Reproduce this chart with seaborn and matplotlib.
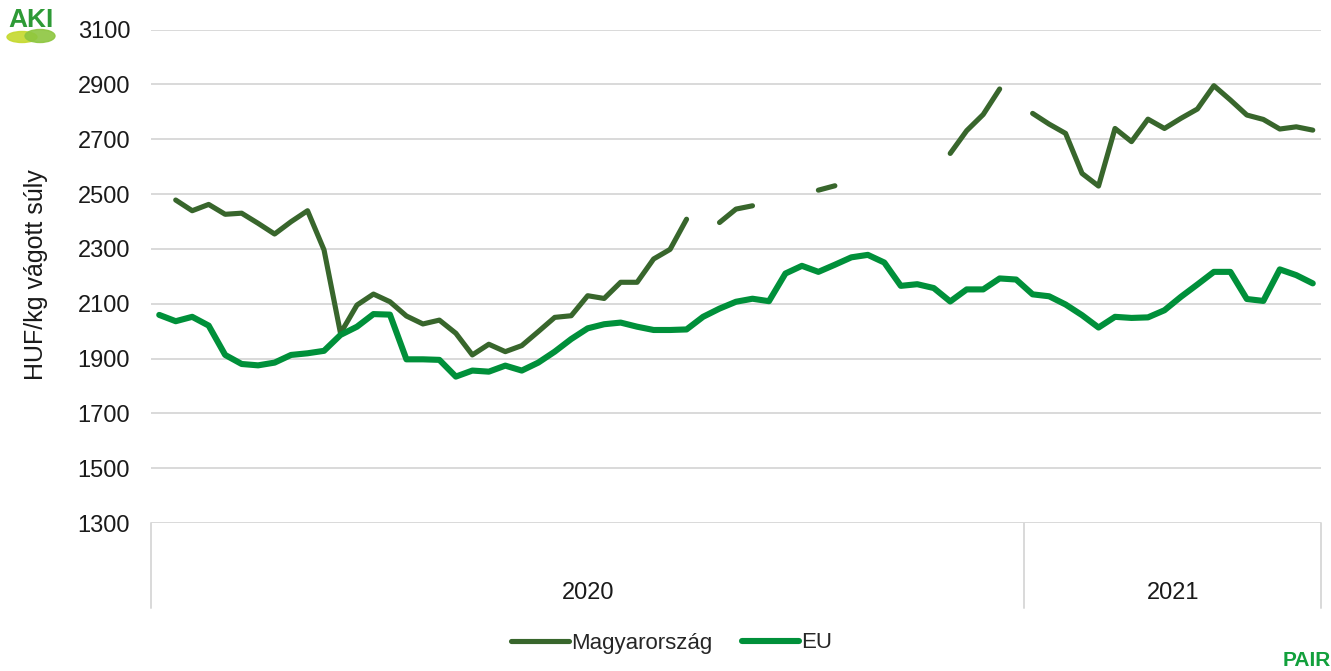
import matplotlib
matplotlib.use("Agg")
import matplotlib.pyplot as plt
import matplotlib.transforms as mtransforms
from matplotlib.lines import Line2D
from matplotlib.patches import Ellipse
import numpy as np
import pandas as pd
import seaborn as sns

# weekly prices, 2020 week 1 .. 2021 week 18
years = ["2020", "2021"]
weeks_per_year = [53, 18]
weeks = list(range(1, 54)) + list(range(1, 19))

nan = np.nan
hu = [nan, 2478, 2439, 2462, 2426, 2430, 2393, 2354, 2399, 2439,
      2296, 1992, 2095, 2135, 2107, 2055, 2026, 2040, 1992, 1913,
      1952, 1925, 1947, 1998, 2050, 2056, 2129, 2119, 2178, 2178,
      2263, 2298, 2408, nan, 2396, 2445, 2457, nan, nan, nan,
      2514, 2530, nan, nan, nan, nan, nan, nan, 2648, 2731,
      2790, 2883, nan, 2794, 2755, 2721, 2575, 2529, 2739, 2691,
      2773, 2739, 2776, 2810, 2895, 2843, 2788, 2772, 2737, 2745,
      2733]
eu = [2059, 2036, 2052, 2020, 1913, 1880, 1875, 1885, 1913, 1919,
      1928, 1986, 2016, 2062, 2060, 1897, 1897, 1895, 1834, 1856,
      1852, 1874, 1856, 1885, 1925, 1971, 2010, 2025, 2031, 2016,
      2004, 2004, 2006, 2052, 2082, 2107, 2118, 2109, 2210, 2238,
      2216, 2242, 2269, 2278, 2250, 2165, 2171, 2157, 2108, 2152,
      2152, 2192, 2188, 2134, 2127, 2097, 2058, 2013, 2052, 2048,
      2050, 2076, 2125, 2170, 2216, 2216, 2117, 2110, 2225, 2204,
      2174]

series_names = ["Magyarország", "EU"]
colors = {"Magyarország": "#38662c", "EU": "#00903a"}
widths = {"Magyarország": 3.7, "EU": 4.4}

frames = []
for name, vals in zip(series_names, [hu, eu]):
    s = pd.Series(vals, dtype=float)
    seg = s.isna().cumsum()
    frames.append(pd.DataFrame({"idx": np.arange(len(vals)), "value": s,
                                "series": name, "seg": name + seg.astype(str)}))
df = pd.concat(frames).dropna(subset=["value"])

sns.set_theme(style="white")
plt.rcParams["font.family"] = ["Liberation Sans", "DejaVu Sans"]

fig = plt.figure(figsize=(13.31, 6.71), dpi=100)
W, H = 1331, 671
ax = fig.add_axes([151 / W, 1 - 523 / H, 1170 / W, 493.5 / H])

sns.lineplot(data=df, x="idx", y="value", hue="series", units="seg",
             estimator=None, sort=False, palette=colors, ax=ax, legend=False)
for line in ax.lines:
    line.set_solid_capstyle("round")
    line.set_linewidth(widths["EU"] if line.get_color() == colors["EU"]
                       else widths["Magyarország"])

n = len(weeks)
ax.set_xlim(-0.5, n - 0.5)
ax.set_ylim(1300, 3100)
ax.set_yticks(range(1300, 3101, 200))
ax.yaxis.grid(True, color="#d9d9d9", linewidth=1.4)
ax.set_axisbelow(True)
for sp in ax.spines.values():
    sp.set_visible(False)
ax.set_xticks([])
ax.set_xlabel("")
ax.tick_params(axis="y", length=0, pad=15, labelsize=17, labelcolor="#1a1a1a")
ax.set_ylabel("HUF/kg vágott súly", fontsize=18, color="#1a1a1a")
ax.yaxis.set_label_coords(-(151 - 48) / 1170, (523 - 275) / 493.5)

# year group axis
trans = mtransforms.blended_transform_factory(ax.transData, ax.transAxes)
bounds = np.concatenate([[0], np.cumsum(weeks_per_year)]) - 0.5
for b in bounds:
    ax.plot([b, b], [0, -85 / 493.5], transform=trans, color="#d9d9d9",
            linewidth=1.4, clip_on=False)
for y, a, b in zip(years, bounds[:-1], bounds[1:]):
    ax.text((a + b) / 2, -70 / 493.5, y, transform=trans, ha="center",
            va="center", fontsize=17, color="#1a1a1a")

# legend
handles = [Line2D([], [], color=colors[s], lw=widths[s]) for s in series_names]
fig.legend(handles, series_names, loc="center", bbox_to_anchor=(672 / W, 1 - 643 / H),
           ncol=2, frameon=False, fontsize=16, handlelength=2.6,
           handletextpad=0.1, columnspacing=1.3)

# logos
fig.text(8 / W, 1 - 20 / H, "AKI", fontsize=19, fontweight="bold",
         color="#2e9a36", va="center", ha="left")
fig.patches.append(Ellipse((22 / W, 1 - 37 / H), 30 / W, 11 / H,
                           transform=fig.transFigure, color="#c5d92d", alpha=0.9))
fig.patches.append(Ellipse((40 / W, 1 - 36 / H), 30 / W, 13 / H,
                           transform=fig.transFigure, color="#8dc63f", alpha=0.9))
fig.text(1283 / W, 1 - 660 / H, "PAIR", fontsize=15, fontweight="bold",
         color="#12a03c", va="center", ha="left")

fig.savefig("out.png", dpi=100)
